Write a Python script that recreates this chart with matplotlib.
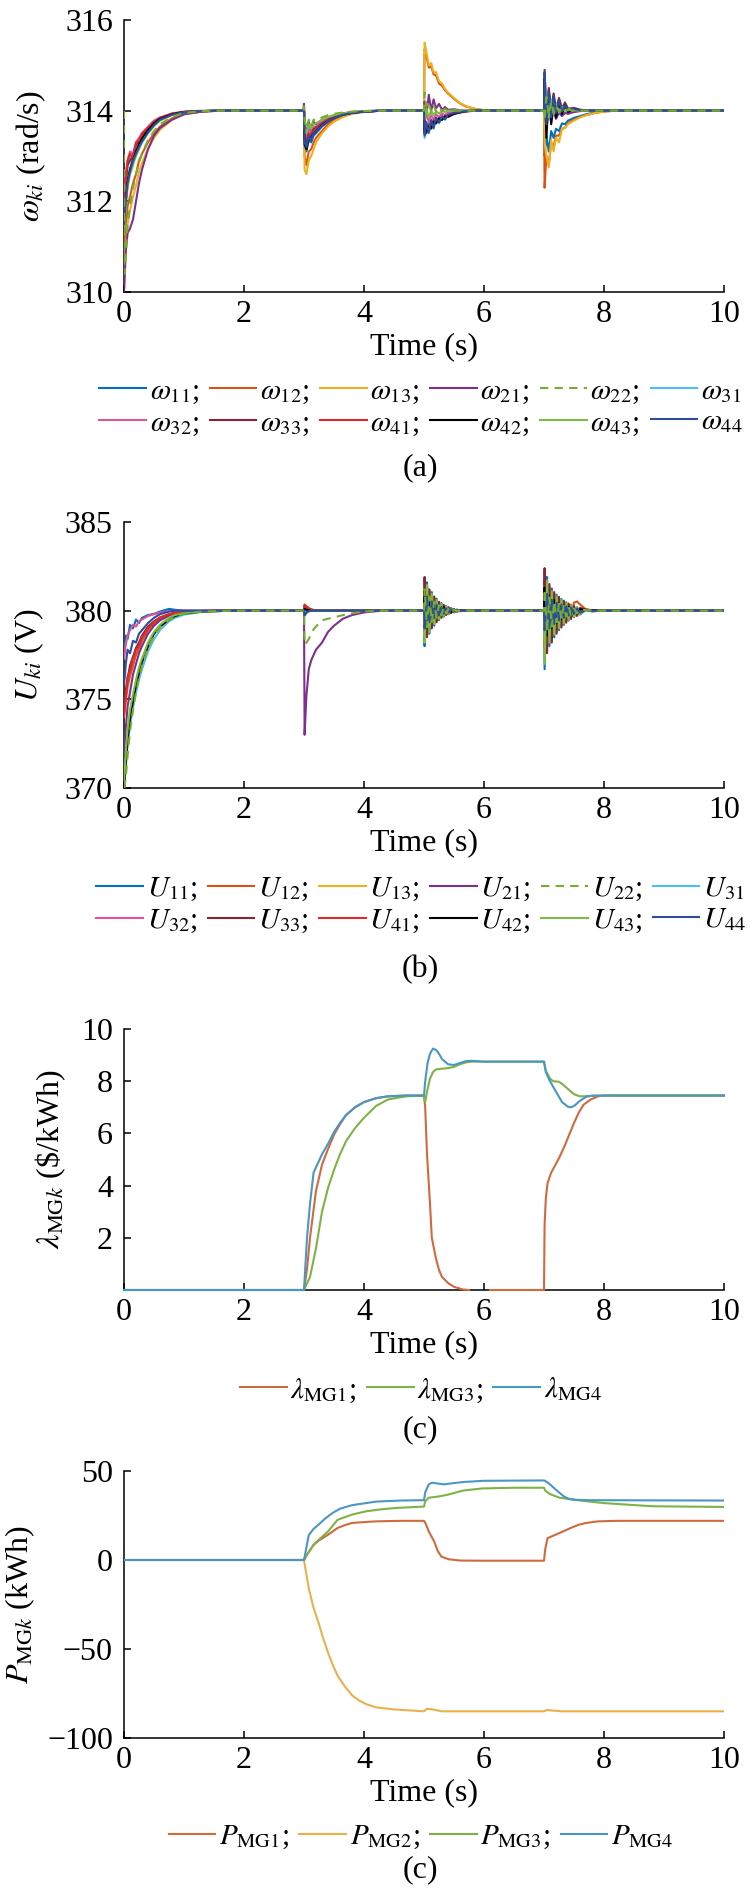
import numpy as np
import matplotlib
matplotlib.use('Agg')
import matplotlib.pyplot as plt

plt.rcParams['font.family'] = ['Liberation Serif', 'DejaVu Serif']
plt.rcParams['mathtext.fontset'] = 'stix'
plt.rcParams['axes.linewidth'] = 1.1

nan = np.nan

# ---------------- (a) frequencies, rad/s ----------------
TA = ([0, 0.005, 0.03, 0.06, 0.1, 0.15, 0.2, 0.25, 0.3, 0.4, 0.5, 0.6, 0.8, 1.0, 1.3, 1.6]
      + [2.99, 3.0, 3.01, 3.04, 3.08, 3.12, 3.16, 3.2, 3.3, 3.4, 3.5, 3.65, 3.8, 4.0, 4.3]
      + [4.99, 5.0, 5.01, 5.04, 5.08, 5.12, 5.16, 5.2, 5.25, 5.3, 5.35, 5.4, 5.5, 5.6, 5.7, 5.85, 6.0, 6.2]
      + [6.99, 7.0, 7.01, 7.04, 7.08, 7.12, 7.16, 7.2, 7.25, 7.3, 7.35, 7.4, 7.5, 7.6, 7.7, 7.85, 8.0, 8.2, 10.0])

W11 = ([311.6, 311.7, 312.1, 312.5, 312.7, 312.95, 313.1, 313.25, 313.35, 313.55, 313.7, 313.8, 313.92, 313.97, 313.99, 314]
       + [314, 314, 313.3, 313.1, 313.35, 313.3, 313.45, 313.5, 313.65, 313.75, 313.83, 313.9, 313.95, 313.98, 314]
       + [314, 314, 313.5, 313.75, 313.55, 313.8, 313.65, 313.85, 313.75, 313.88, 313.82, 313.92, 313.95, 313.97, 313.99, 314, 314, 314]
       + [314, 314, 313.0, 313.45, 313.1, 313.55, 313.4, 313.6, 313.55, 313.72, 313.7, 313.78, 313.84, 313.88, 313.92, 313.96, 313.99, 314, 314])
W12 = ([310.8, 310.9, 311.4, 311.9, 312.1, 312.4, 312.6, 312.9, 313.05, 313.3, 313.5, 313.65, 313.83, 313.93, 313.98, 314]
       + [314, 314, 313.0, 312.8, 313.1, 313.15, 313.3, 313.4, 313.55, 313.7, 313.8, 313.88, 313.94, 313.98, 314]
       + [314, 314, 315.35, 315.2, 314.95, 314.98, 314.8, 314.78, 314.6, 314.55, 314.45, 314.38, 314.26, 314.16, 314.09, 314.04, 314.01, 314]
       + [314, 314, 312.3, 313.0, 312.8, 313.3, 313.2, 313.45, 313.45, 313.6, 313.62, 313.72, 313.8, 313.86, 313.9, 313.95, 313.98, 314, 314])
W13 = ([310.5, 310.6, 311.0, 311.5, 311.8, 312.1, 312.35, 312.65, 312.85, 313.15, 313.4, 313.58, 313.8, 313.92, 313.98, 314]
       + [314, 314, 312.7, 312.6, 312.9, 313.0, 313.15, 313.3, 313.5, 313.65, 313.76, 313.86, 313.93, 313.97, 314]
       + [314, 314, 315.5, 315.3, 315.0, 315.05, 314.85, 314.85, 314.65, 314.6, 314.48, 314.4, 314.28, 314.17, 314.1, 314.04, 314.01, 314]
       + [314, 314, 313.3, 313.0, 312.75, 313.35, 313.1, 313.4, 313.3, 313.6, 313.62, 313.7, 313.78, 313.85, 313.9, 313.95, 313.98, 314, 314])
W21 = ([310.0, 310.1, 310.9, 311.3, 311.4, 311.6, 312.0, 312.4, 312.7, 313.15, 313.45, 313.62, 313.8, 313.92, 313.98, 314]
       + [314, 314.15, 313.7, 313.5, 313.75, 313.55, 313.75, 313.7, 313.8, 313.85, 313.9, 313.94, 313.97, 313.99, 314]
       + [314, 314, 314.2, 313.9, 314.35, 314.0, 314.25, 314.05, 314.15, 314.02, 314.08, 314.02, 314.03, 314.01, 314, 314, 314, 314]
       + [314, 314, 314.3, 313.6, 314.05, 313.75, 314.0, 313.82, 313.95, 313.88, 313.95, 313.93, 313.97, 313.99, 314, 314, 314, 314, 314])
W22 = ([314.0, 310.4, 310.8, 311.5, 311.9, 312.3, 312.6, 312.85, 313.05, 313.35, 313.55, 313.7, 313.86, 313.95, 313.99, 314]
       + [314, 314.1, 313.8, 313.6, 313.8, 313.65, 313.8, 313.78, 313.85, 313.9, 313.93, 313.96, 313.98, 313.99, 314]
       + [314, 314, 314.4, 314.1, 314.2, 313.95, 314.12, 313.98, 314.07, 313.99, 314.04, 314.0, 314.01, 314, 314, 314, 314, 314]
       + [314, 314, 313.8, 314.3, 313.9, 314.2, 313.95, 314.1, 313.98, 314.05, 314.0, 314.02, 314.0, 314, 314, 314, 314, 314, 314])
W31 = ([312.0, 312.1, 312.5, 312.8, 313.0, 312.95, 313.2, 313.35, 313.45, 313.6, 313.75, 313.83, 313.93, 313.97, 313.99, 314]
       + [314, 314, 313.2, 313.2, 313.45, 313.4, 313.55, 313.6, 313.7, 313.78, 313.85, 313.91, 313.95, 313.98, 314]
       + [314, 314, 313.4, 313.7, 313.5, 313.75, 313.6, 313.82, 313.72, 313.86, 313.8, 313.9, 313.94, 313.97, 313.99, 314, 314, 314]
       + [314, 314, 314.8, 314.0, 314.45, 314.05, 314.35, 314.08, 314.25, 314.06, 314.15, 314.05, 314.05, 314.02, 314.01, 314, 314, 314, 314])
W32 = ([312.1, 312.2, 312.6, 312.9, 313.1, 313.05, 313.3, 313.4, 313.5, 313.65, 313.78, 313.85, 313.94, 313.98, 314.0, 314]
       + [314, 314, 313.5, 313.4, 313.6, 313.5, 313.65, 313.65, 313.75, 313.82, 313.88, 313.93, 313.96, 313.99, 314]
       + [314, 314, 313.7, 313.95, 313.75, 313.9, 313.8, 313.92, 313.86, 313.94, 313.9, 313.96, 313.97, 313.99, 314, 314, 314, 314]
       + [314, 314, 314.5, 313.9, 314.3, 313.95, 314.2, 314.0, 314.12, 314.02, 314.08, 314.02, 314.02, 314.01, 314, 314, 314, 314, 314])
W33 = ([311.9, 312.0, 312.4, 312.8, 312.9, 313.0, 313.25, 313.3, 313.45, 313.6, 313.74, 313.83, 313.93, 313.97, 313.99, 314]
       + [314, 314, 313.4, 313.3, 313.5, 313.45, 313.6, 313.62, 313.72, 313.8, 313.86, 313.92, 313.96, 313.98, 314]
       + [314, 314, 313.6, 313.5, 313.7, 313.6, 313.78, 313.72, 313.84, 313.8, 313.88, 313.86, 313.93, 313.97, 313.99, 314, 314, 314]
       + [314, 314, 314.9, 313.9, 314.5, 313.95, 314.38, 314.02, 314.28, 314.04, 314.18, 314.04, 314.06, 314.02, 314.01, 314, 314, 314, 314])
W41 = ([312.0, 312.1, 312.55, 312.9, 313.05, 312.95, 313.3, 313.35, 313.5, 313.62, 313.76, 313.84, 313.93, 313.97, 313.99, 314]
       + [314, 314, 313.35, 313.25, 313.5, 313.4, 313.55, 313.6, 313.7, 313.79, 313.86, 313.92, 313.96, 313.98, 314]
       + [314, 314, 313.55, 313.6, 313.68, 313.65, 313.76, 313.74, 313.83, 313.82, 313.88, 313.88, 313.93, 313.96, 313.98, 314, 314, 314]
       + [314, 314, 314.6, 313.8, 314.35, 313.85, 314.25, 313.92, 314.15, 313.97, 314.1, 313.99, 314.03, 314.01, 314, 314, 314, 314, 314])
W42 = ([312.0, 312.0, 312.0, 312.4, 312.7, 312.9, 313.1, 313.25, 313.38, 313.57, 313.72, 313.82, 313.92, 313.97, 313.99, 314]
       + [314, 314, 313.25, 313.15, 313.4, 313.4, 313.5, 313.55, 313.68, 313.77, 313.84, 313.91, 313.95, 313.98, 314]
       + [314, 314, 313.5, 313.55, 313.65, 313.62, 313.75, 313.72, 313.82, 313.8, 313.87, 313.87, 313.93, 313.96, 313.99, 314, 314, 314]
       + [314, 314, 314.7, 313.4, 314.4, 313.7, 314.3, 313.85, 314.2, 313.92, 314.12, 313.97, 314.04, 314.01, 314, 314, 314, 314, 314])
W43 = ([311.3, 311.4, 311.9, 312.3, 312.6, 312.8, 313.0, 313.15, 313.3, 313.5, 313.66, 313.78, 313.9, 313.96, 313.99, 314]
       + [314, 314.05, 313.6, 313.5, 313.7, 313.6, 313.7, 313.72, 313.8, 313.86, 313.9, 313.94, 313.97, 313.99, 314]
       + [314, 314, 313.8, 314.05, 313.85, 314.0, 313.9, 313.98, 313.94, 313.99, 313.97, 314.0, 314, 314, 314, 314, 314, 314]
       + [314, 314, 314.0, 314.4, 313.85, 314.25, 313.92, 314.15, 313.96, 314.08, 313.99, 314.04, 314.01, 314, 314, 314, 314, 314, 314])
W44 = ([311.5, 311.6, 312.0, 312.4, 312.65, 312.9, 313.05, 313.2, 313.32, 313.52, 313.68, 313.8, 313.91, 313.96, 313.99, 314]
       + [314, 314, 313.3, 313.2, 313.45, 313.35, 313.5, 313.55, 313.67, 313.77, 313.84, 313.91, 313.95, 313.98, 314]
       + [314, 314, 313.45, 313.72, 313.52, 313.78, 313.62, 313.84, 313.74, 313.87, 313.81, 313.91, 313.95, 313.97, 313.99, 314, 314, 314]
       + [314, 314, 314.85, 313.7, 314.42, 313.85, 314.33, 313.95, 314.22, 313.98, 314.12, 314.0, 314.04, 314.01, 314, 314, 314, 314, 314])

# ---------------- (b) voltages, V ----------------
TB = ([0, 0.005, 0.03, 0.06, 0.1, 0.15, 0.2, 0.25, 0.3, 0.4, 0.5, 0.6, 0.75, 0.85, 1.0, 1.3, 1.8]
      + [2.99, 3.0, 3.01, 3.04, 3.08, 3.12, 3.16, 3.2, 3.3, 3.4, 3.5, 3.65, 3.8, 4.0, 4.3]
      + [4.99, 5.0, 5.01, 5.05, 5.09, 5.13, 5.17, 5.21, 5.25, 5.29, 5.33, 5.37, 5.41, 5.45, 5.5, 5.55, 5.6, 5.7, 5.85, 6.0]
      + [6.99, 7.0, 7.01, 7.05, 7.09, 7.13, 7.17, 7.21, 7.25, 7.29, 7.33, 7.37, 7.41, 7.45, 7.5, 7.55, 7.6, 7.7, 7.8, 7.95, 10.0])

U11 = ([377.5, 377.6, 378.6, 378.4, 379.2, 379.0, 379.5, 379.3, 379.6, 379.75, 379.82, 379.95, 380.1, 380.05, 380.0, 380.0, 380.0]
       + [380, 380, 379.8, 379.9, 380.0, 380.02, 380, 380, 380, 380, 380, 380, 380, 380, 380]
       + [380, 380, 378.0, 381.6, 378.7, 381.05, 379.15, 380.68, 379.46, 380.43, 379.66, 380.26, 379.8, 380.15, 379.9, 380.06, 379.97, 380, 380, 380]
       + [380, 380, 376.7, 381.9, 378.0, 381.25, 378.5, 380.9, 378.9, 380.66, 379.2, 380.48, 379.44, 380.34, 379.63, 380.2, 379.78, 380.07, 379.96, 380, 380])
U12 = ([374.0, 374.1, 374.9, 375.7, 376.3, 376.9, 377.5, 377.9, 378.3, 378.9, 379.3, 379.55, 379.78, 379.86, 379.93, 379.98, 380]
       + [380, 380, 380.35, 380.25, 380.15, 380.08, 380.04, 380.02, 380, 380, 380, 380, 380, 380, 380]
       + [380, 380, 381.8, 378.6, 381.15, 379.05, 380.75, 379.4, 380.48, 379.62, 380.3, 379.77, 380.18, 379.87, 380.09, 379.95, 380.02, 380, 380, 380]
       + [380, 380, 382.2, 377.8, 381.35, 378.4, 380.95, 378.85, 380.7, 379.15, 380.5, 379.4, 380.36, 379.6, 380.45, 380.52, 380.35, 380.06, 380.0, 380, 380])
U13 = ([370.0, 370.3, 371.6, 372.9, 374.0, 375.0, 375.9, 376.6, 377.2, 378.1, 378.75, 379.15, 379.55, 379.72, 379.85, 379.96, 380]
       + [380, 380, 380.2, 380.15, 380.1, 380.05, 380.02, 380.01, 380, 380, 380, 380, 380, 380, 380]
       + [380, 380, 381.4, 378.9, 380.9, 379.25, 380.6, 379.5, 380.38, 379.7, 380.24, 379.82, 380.14, 379.9, 380.07, 379.96, 380.02, 380, 380, 380]
       + [380, 380, 378.2, 381.1, 378.8, 380.75, 379.1, 380.55, 379.35, 380.4, 379.52, 380.3, 379.66, 380.2, 379.78, 380.12, 379.87, 380.04, 379.98, 380, 380])
U21 = ([372.0, 372.2, 373.4, 374.6, 375.4, 376.4, 377.0, 377.6, 378.0, 378.7, 379.15, 379.45, 379.72, 379.83, 379.92, 379.98, 380]
       + [380, 380, 373.0, 375.2, 376.7, 377.2, 377.5, 377.8, 378.2, 378.8, 379.15, 379.55, 379.75, 379.9, 380]
       + [380, 380, 378.4, 381.3, 378.95, 380.85, 379.3, 380.55, 379.57, 380.35, 379.72, 380.2, 379.84, 380.12, 379.92, 380.05, 379.98, 380, 380, 380]
       + [380, 380, 381.7, 378.3, 381.05, 378.75, 380.73, 379.1, 380.55, 379.35, 380.4, 379.53, 380.28, 379.67, 380.18, 379.79, 380.1, 380.05, 380.02, 380, 380])
U22 = ([370.0, 370.0, 370.6, 371.8, 373.2, 374.4, 375.4, 376.2, 376.9, 377.9, 378.6, 379.05, 379.5, 379.68, 379.83, 379.95, 380]
       + [380, 380, 378.1, 378.2, 378.4, 378.7, 378.95, 379.1, 379.45, 379.55, 379.62, 379.75, 379.85, 379.95, 380]
       + [380, 380, 381.2, 379.05, 380.8, 379.35, 380.5, 379.6, 380.32, 379.74, 380.2, 379.85, 380.12, 379.91, 380.06, 379.97, 380.01, 380, 380, 380]
       + [380, 380, 381.2, 378.8, 380.75, 379.1, 380.52, 379.35, 380.39, 379.52, 380.28, 379.66, 380.2, 379.76, 380.13, 379.85, 380.07, 380.03, 380.01, 380, 380])
U31 = ([370.0, 370.2, 371.2, 372.4, 373.5, 374.5, 375.4, 376.1, 376.7, 377.7, 378.4, 378.9, 379.4, 379.6, 379.78, 379.93, 380]
       + [380, 380, 380.1, 380.05, 380.02, 380, 380, 380, 380, 380, 380, 380, 380, 380, 380]
       + [380, 380, 378.6, 381.1, 379.1, 380.72, 379.4, 380.48, 379.62, 380.3, 379.76, 380.18, 379.86, 380.1, 379.93, 380.04, 379.98, 380, 380, 380]
       + [380, 380, 377.4, 381.5, 378.4, 380.95, 378.8, 380.72, 379.1, 380.53, 379.36, 380.38, 379.55, 380.27, 379.7, 380.16, 379.82, 380.05, 379.97, 380, 380])
U32 = ([377.3, 377.4, 378.1, 378.6, 378.9, 379.2, 379.1, 379.4, 379.5, 379.7, 379.8, 379.9, 379.97, 380.0, 380.0, 380.0, 380]
       + [380, 380, 380.15, 380.1, 380.05, 380.02, 380, 380, 380, 380, 380, 380, 380, 380, 380]
       + [380, 380, 381.0, 379.2, 380.65, 379.47, 380.42, 379.66, 380.27, 379.78, 380.17, 379.87, 380.1, 379.93, 380.05, 379.97, 380.01, 380, 380, 380]
       + [380, 380, 381.45, 378.55, 380.9, 378.95, 380.63, 379.22, 380.47, 379.43, 380.34, 379.6, 380.24, 379.72, 380.16, 379.82, 380.09, 380.04, 380.01, 380, 380])
U33 = ([374.5, 374.6, 375.5, 376.2, 376.9, 377.4, 377.9, 378.2, 378.6, 379.1, 379.4, 379.62, 379.8, 379.88, 379.94, 379.98, 380]
       + [380, 380, 380.3, 380.2, 380.1, 380.05, 380.02, 380, 380, 380, 380, 380, 380, 380, 380]
       + [380, 380, 381.9, 378.5, 381.2, 379.0, 380.8, 379.35, 380.5, 379.6, 380.32, 379.75, 380.19, 379.86, 380.09, 379.95, 380.02, 380, 380, 380]
       + [380, 380, 382.4, 377.6, 381.5, 378.2, 381.05, 378.7, 380.78, 379.05, 380.56, 379.32, 380.4, 379.53, 380.26, 379.7, 380.15, 380.07, 380.03, 380, 380])
U41 = ([374.2, 374.3, 375.2, 376.3, 376.6, 377.3, 377.8, 378.0, 378.5, 379.0, 379.35, 379.6, 379.8, 379.87, 379.94, 379.98, 380]
       + [380, 380, 380.3, 380.22, 380.12, 380.06, 380.03, 380, 380, 380, 380, 380, 380, 380, 380]
       + [380, 380, 378.8, 380.95, 379.2, 380.63, 379.5, 380.42, 379.68, 380.26, 379.8, 380.16, 379.88, 380.09, 379.94, 380.03, 379.99, 380, 380, 380]
       + [380, 380, 377.9, 381.3, 378.6, 380.85, 378.95, 380.62, 379.23, 380.46, 379.44, 380.34, 379.6, 380.24, 379.74, 380.14, 379.85, 380.05, 379.98, 380, 380])
U42 = ([370.0, 370.1, 371.4, 372.7, 373.9, 374.9, 375.8, 376.5, 377.1, 378.0, 378.7, 379.1, 379.5, 379.7, 379.84, 379.95, 380]
       + [380, 380, 380.1, 380.05, 380.02, 380, 380, 380, 380, 380, 380, 380, 380, 380, 380]
       + [380, 380, 381.1, 379.0, 380.75, 379.4, 380.47, 379.63, 380.3, 379.76, 380.19, 379.86, 380.11, 379.92, 380.06, 379.97, 380.01, 380, 380, 380]
       + [380, 380, 381.3, 378.6, 380.85, 379.0, 380.6, 379.3, 380.42, 379.5, 380.3, 379.64, 380.22, 379.75, 380.14, 379.84, 380.08, 380.03, 380.01, 380, 380])
U43 = ([370.2, 370.6, 372.0, 373.3, 374.4, 375.3, 376.1, 376.8, 377.3, 378.2, 378.8, 379.2, 379.6, 379.75, 379.86, 379.96, 380]
       + [380, 380, 379.7, 379.85, 379.95, 380, 380, 380, 380, 380, 380, 380, 380, 380, 380]
       + [380, 380, 378.2, 381.45, 378.8, 380.95, 379.25, 380.6, 379.52, 380.38, 379.7, 380.23, 379.82, 380.13, 379.91, 380.05, 379.98, 380, 380, 380]
       + [380, 380, 377.0, 381.7, 378.2, 381.1, 378.65, 380.8, 379.0, 380.6, 379.28, 380.42, 379.5, 380.3, 379.66, 380.18, 379.8, 380.06, 379.97, 380, 380])
U44 = ([375.8, 376.0, 377.0, 377.8, 377.6, 378.3, 378.2, 378.7, 378.9, 379.3, 379.6, 379.8, 379.95, 380.0, 380.0, 380.0, 380]
       + [380, 380, 379.75, 379.9, 379.98, 380, 380, 380, 380, 380, 380, 380, 380, 380, 380]
       + [380, 380, 379.0, 380.8, 379.35, 380.52, 379.58, 380.34, 379.73, 380.21, 379.83, 380.13, 379.9, 380.08, 379.95, 380.03, 379.99, 380, 380, 380]
       + [380, 380, 378.9, 380.95, 379.0, 380.62, 379.25, 380.45, 379.45, 380.34, 379.6, 380.25, 379.72, 380.18, 379.82, 380.11, 379.89, 380.04, 379.99, 380, 380])

# ---------------- (c) incremental cost, $/kWh ----------------
LAM1_T = [0, 3.0, 3.05, 3.1, 3.2, 3.3, 3.4, 3.5, 3.6, 3.7, 3.85, 4.0, 4.2, 4.4, 4.7, 5.0, 5.02, 5.05, 5.1, 5.13,
          5.2, 5.25, 5.3, 5.41, 5.5, 5.65, 5.75, 5.76, 6.1, 7.0, 7.01, 7.03, 7.06, 7.12, 7.18, 7.26, 7.34, 7.42, 7.5, 7.58,
          7.66, 7.78, 7.9, 8.0, 10.0]
LAM1 = [0, 0, 0.8, 2.0, 3.8, 4.8, 5.4, 5.95, 6.35, 6.7, 7.0, 7.2, 7.35, 7.42, 7.45, 7.45, 7.0, 5.2, 3.3, 2.0,
        1.2, 0.77, 0.5, 0.25, 0.12, 0.02, 0, nan, 0, 0, 2.5, 3.5, 4.1, 4.5, 4.75, 5.1, 5.5, 5.95, 6.4, 6.8,
        7.1, 7.3, 7.42, 7.45, 7.45]
LAM3_T = [0, 3.0, 3.05, 3.1, 3.2, 3.3, 3.4, 3.5, 3.6, 3.7, 3.85, 4.0, 4.2, 4.4, 4.7, 5.0, 5.02, 5.05, 5.1, 5.15,
          5.2, 5.3, 5.4, 5.5, 5.6, 5.7, 5.8, 7.0, 7.03, 7.1, 7.15, 7.25, 7.3, 7.4, 7.5, 7.6, 7.75, 8.0, 10.0]
LAM3 = [0, 0, 0.25, 0.5, 1.6, 3.0, 3.9, 4.6, 5.2, 5.7, 6.2, 6.6, 7.05, 7.3, 7.42, 7.45, 7.2, 7.6, 8.1, 8.35,
        8.45, 8.48, 8.5, 8.55, 8.65, 8.72, 8.75, 8.75, 8.4, 8.1, 8.0, 7.98, 7.9, 7.7, 7.5, 7.42, 7.43, 7.45, 7.45]
LAM4_T = [0, 3.0, 3.05, 3.1, 3.16, 3.2, 3.3, 3.4, 3.5, 3.6, 3.7, 3.85, 4.0, 4.2, 4.4, 4.7, 5.0, 5.02, 5.06, 5.1,
          5.15, 5.2, 5.25, 5.3, 5.4, 5.5, 5.6, 5.7, 5.8, 6.0, 7.0, 7.03, 7.1, 7.2, 7.3, 7.4, 7.45, 7.5, 7.6, 7.7,
          7.8, 10.0]
LAM4 = [0, 0, 2.0, 3.3, 4.5, 4.7, 5.2, 5.6, 6.05, 6.4, 6.7, 7.0, 7.2, 7.35, 7.42, 7.45, 7.45, 8.0, 8.7, 9.05,
        9.25, 9.2, 9.05, 8.85, 8.65, 8.62, 8.7, 8.77, 8.78, 8.75, 8.75, 8.35, 8.0, 7.6, 7.2, 7.02, 7.0, 7.05, 7.25, 7.4,
        7.45, 7.45]

# ---------------- (d) power, kWh ----------------
P1_T = [0, 3.0, 3.05, 3.1, 3.16, 3.25, 3.4, 3.56, 3.7, 3.8, 4.0, 4.2, 4.6, 5.0, 5.02, 5.08, 5.17, 5.23, 5.29, 5.41,
        5.6, 6.0, 7.0, 7.02, 7.06, 7.18, 7.28, 7.38, 7.48, 7.58, 7.7, 7.9, 8.2, 10.0]
P1 = [0, 0, 3, 5.5, 8.5, 11, 14.2, 18, 19.8, 20.8, 21.3, 21.7, 22, 22, 21, 16, 10.4, 5, 1.9, 0.4,
      -0.3, -0.4, -0.4, 6, 12.3, 14, 15.5, 17, 18.5, 19.8, 20.8, 21.7, 22, 22]
P2_T = [0, 3.0, 3.04, 3.08, 3.16, 3.24, 3.32, 3.4, 3.48, 3.56, 3.68, 3.8, 3.92, 4.04, 4.2, 4.52, 5.0, 5.05, 5.15, 5.3,
        7.0, 7.05, 7.15, 7.3, 10.0]
P2 = [0, 0, -8, -16, -27, -35, -44, -52, -59, -65, -71, -76, -79, -81, -82.8, -84, -85, -83.6, -84, -85,
      -85, -84.3, -84.6, -85, -85]
P3_T = [0, 3.0, 3.05, 3.1, 3.16, 3.25, 3.4, 3.56, 3.8, 4.04, 4.3, 4.52, 4.8, 5.0, 5.02, 5.08, 5.25, 5.41, 5.65, 5.97,
        6.5, 7.0, 7.02, 7.1, 7.26, 7.5, 7.99, 8.8, 10.0]
P3 = [0, 0, 3, 5.5, 8.5, 11.5, 16, 22.6, 25.5, 27.4, 28.5, 29.2, 29.7, 30, 33, 35, 35.7, 36.8, 39, 40.2,
      40.6, 40.6, 39, 37, 35, 33.8, 32, 30.2, 29.8]
P4_T = [0, 3.0, 3.04, 3.08, 3.16, 3.24, 3.36, 3.48, 3.6, 3.8, 4.2, 4.6, 5.0, 5.02, 5.08, 5.13, 5.22, 5.33, 5.5, 5.65,
        6.0, 7.0, 7.05, 7.1, 7.18, 7.26, 7.34, 7.42, 7.55, 7.74, 10.0]
P4 = [0, 0, 7, 14, 17.5, 19.8, 23.5, 26.5, 28.8, 30.8, 32.8, 33.4, 33.6, 38, 42.5, 43.4, 43, 42.5, 43.2, 43.8,
      44.5, 44.7, 43.8, 42.5, 40, 37.7, 35.5, 34.3, 33.8, 33.6, 33.4]

# labels / colours
BUS = ['11', '12', '13', '21', '22', '31', '32', '33', '41', '42', '43', '44']
BUS_COLORS = ['#0072BD', '#D95319', '#EDB120', '#7E2F8E', '#77AC30', '#4DBEEE',
              '#E0529C', '#8B2330', '#E02A2A', '#000000', '#7CBB44', '#2D4E9E']
MG_COLORS = {'1': '#CF6A3F', '2': '#E8B14C', '3': '#7DB346', '4': '#4A96C4'}

W_SERIES = [W11, W12, W13, W21, W22, W31, W32, W33, W41, W42, W43, W44]
U_SERIES = [U11, U12, U13, U21, U22, U31, U32, U33, U41, U42, U43, U44]

FW, FH = 753, 1892
FS = 23
LW = 1.5


def rect(top, bottom):
    return [124 / FW, 1 - bottom / FH, 600 / FW, (bottom - top) / FH]


def style(ax, top, bottom, ylim, yticks, ylabel, ylab_x):
    ax.set_xlim(0, 10)
    ax.set_ylim(*ylim)
    ax.set_xticks([0, 2, 4, 6, 8, 10])
    ax.set_yticks(yticks)
    ax.spines['top'].set_visible(False)
    ax.spines['right'].set_visible(False)
    ax.tick_params(direction='in', length=5, width=1.1, labelsize=FS)
    ax.tick_params(axis='x', pad=5.5)
    ax.tick_params(axis='y', pad=8)
    h = bottom - top
    ax.set_xlabel('Time (s)', fontsize=FS, va='center')
    ax.xaxis.set_label_coords(0.5, -55 / h)
    ax.set_ylabel(ylabel, fontsize=FS, va='center')
    ax.yaxis.set_label_coords((ylab_x - 124) / 600, 0.5)


def row_major(items, ncol):
    nrow = int(np.ceil(len(items) / ncol))
    out = []
    for c in range(ncol):
        for r in range(nrow):
            i = r * ncol + c
            if i < len(items):
                out.append(items[i])
    return out


def add_legend(ax, handles, labels, ncol, y_px):
    leg = ax.legend(row_major(handles, ncol), row_major(labels, ncol), ncol=ncol,
                    loc='center', bbox_to_anchor=(421 / FW, 1 - y_px / FH),
                    bbox_transform=fig.transFigure, frameon=False, fontsize=21,
                    handlelength=1.6, handletextpad=0.12, columnspacing=0.36,
                    labelspacing=0.15, borderpad=0, borderaxespad=0)
    return leg


fig = plt.figure(figsize=(FW / 100, FH / 100), dpi=100)


def bus_panel(top, bottom, t, series, sym, ylim, yticks, ylabel, ylab_x, leg_y, tag, tag_y):
    ax = fig.add_axes(rect(top, bottom))
    handles = []
    for k, (vals, col) in enumerate(zip(series, BUS_COLORS)):
        if k == 4:
            h, = ax.plot(t, vals, color=col, lw=LW, dashes=(4, 3), zorder=5)
        else:
            h, = ax.plot(t, vals, color=col, lw=LW, zorder=3)
        handles.append(h)
    labels = []
    for k, b in enumerate(BUS):
        end = '' if k in (5, 11) else ';'
        labels.append(r'$%s_{%s}$%s' % (sym, b, end))
    style(ax, top, bottom, ylim, yticks, ylabel, ylab_x)
    add_legend(ax, handles, labels, 6, leg_y)
    fig.text(420 / FW, 1 - tag_y / FH, tag, ha='center', va='center', fontsize=FS)
    return ax


bus_panel(20, 292, TA, W_SERIES, r'\omega', (310, 316), [310, 312, 314, 316],
          r'$\omega_{ki}$ (rad/s)', 31, 408, '(a)', 468)
bus_panel(522, 788, TB, U_SERIES, 'U', (370, 385), [370, 375, 380, 385],
          r'$U_{ki}$ (V)', 29, 905, '(b)', 970)

# (c)
axc = fig.add_axes(rect(1029, 1290))
hc = []
for t, v, m in [(LAM1_T, LAM1, '1'), (LAM3_T, LAM3, '3'), (LAM4_T, LAM4, '4')]:
    h, = axc.plot(t, v, color=MG_COLORS[m], lw=LW, zorder=3, clip_on=False)
    hc.append(h)
style(axc, 1029, 1290, (0, 10), [2, 4, 6, 8, 10], r'$\lambda_{\mathrm{MG}k}$ (\$/kWh)', 51)
add_legend(axc, hc, [r'$\lambda_{\mathrm{MG1}}$;', r'$\lambda_{\mathrm{MG3}}$;', r'$\lambda_{\mathrm{MG4}}$'], 3, 1390)
fig.text(420 / FW, 1 - 1430 / FH, '(c)', ha='center', va='center', fontsize=FS)

# (d)
axd = fig.add_axes(rect(1471, 1738))
hd = []
for t, v, m in [(P1_T, P1, '1'), (P2_T, P2, '2'), (P3_T, P3, '3'), (P4_T, P4, '4')]:
    h, = axd.plot(t, v, color=MG_COLORS[m], lw=LW, zorder=3)
    hd.append(h)
style(axd, 1471, 1738, (-100, 50), [-100, -50, 0, 50], r'$P_{\mathrm{MG}k}$ (kWh)', 20)
add_legend(axd, hd, [r'$P_{\mathrm{MG1}}$;', r'$P_{\mathrm{MG2}}$;', r'$P_{\mathrm{MG3}}$;', r'$P_{\mathrm{MG4}}$'], 4, 1837)
fig.text(420 / FW, 1 - 1870 / FH, '(c)', ha='center', va='center', fontsize=FS)

fig.savefig('out.png', dpi=100)
